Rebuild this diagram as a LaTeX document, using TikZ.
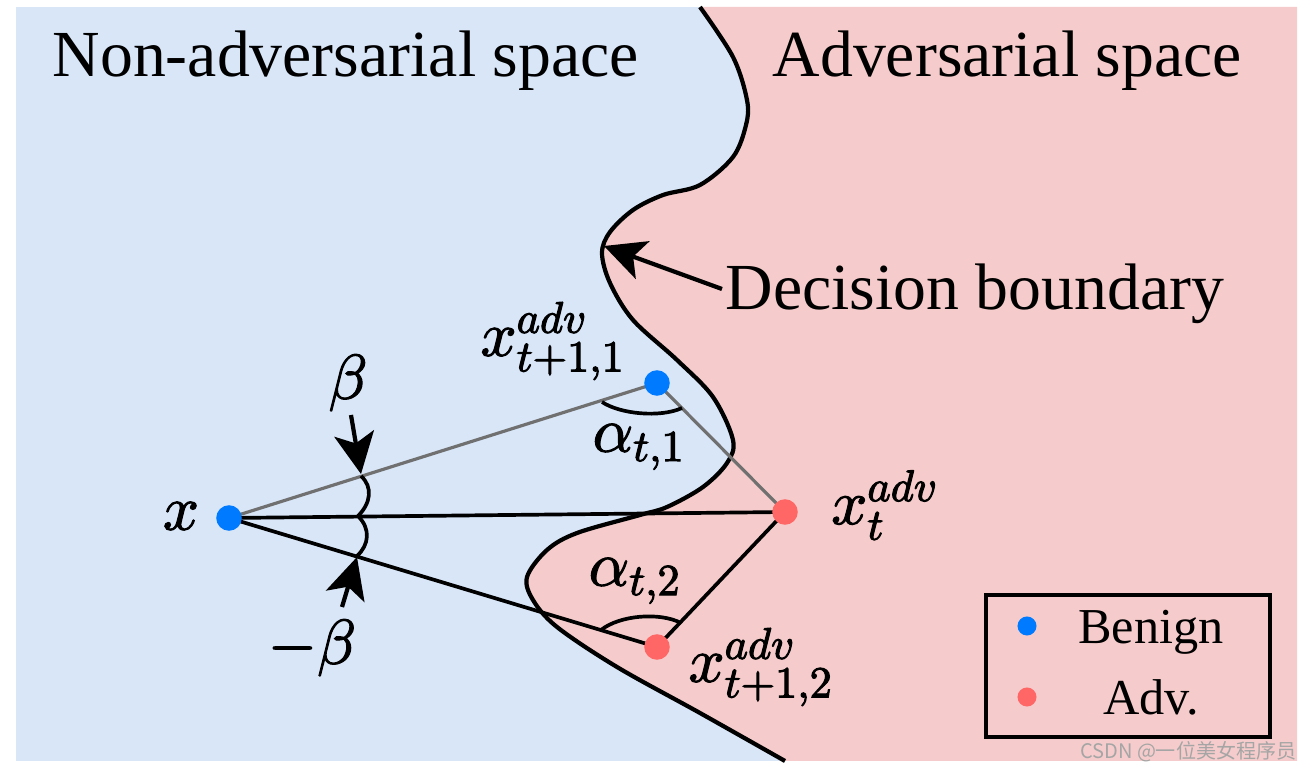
\documentclass[tikz,border=0pt]{standalone}
\usepackage[no-math]{fontspec}
\setmainfont{Liberation Serif}
\newfontfamily\cjkwm{Noto Sans CJK SC}
\usepackage{amsmath}
\DeclareFontShape{OML}{cmm}{m}{it}{<->cmmi10}{\skewchar\font'177}
\DeclareFontShape{OT1}{cmr}{m}{n}{<->cmr10}{}
\DeclareFontShape{OMS}{cmsy}{m}{n}{<->cmsy10}{\skewchar\font'60}
\newcommand\heavymath[1]{\special{pdf:literal direct 2 Tr 0.3 w}#1\special{pdf:literal direct 0 Tr}}
\usetikzlibrary{arrows.meta}
\definecolor{bgblue}{RGB}{216,230,248}
\definecolor{bgpink}{RGB}{245,204,203}
\definecolor{dotblue}{RGB}{0,123,255}
\definecolor{dotred}{RGB}{255,102,102}
\definecolor{linegray}{RGB}{112,112,112}
\definecolor{wmgray}{RGB}{165,165,165}
\begin{document}
\begin{tikzpicture}[x=0.01cm,y=-0.01cm,
  dot/.style={circle,inner sep=0pt,minimum size=0.255cm,draw=none},
  smalldot/.style={circle,inner sep=0pt,minimum size=0.19cm,draw=none},
  blk/.style={line width=1.05pt,black},
  gry/.style={line width=0.9pt,linegray},
  arcline/.style={line width=1.05pt,black},
  bigarrow/.style={line width=1.2pt,-{Stealth[length=0.41cm,width=0.40cm,inset=0.10cm]}},
  bigtext/.style={font=\fontsize{18.7}{22}\selectfont},
  mathlbl/.style={font=\fontsize{18}{22}\selectfont,inner sep=0pt},
  legtext/.style={font=\fontsize{14.3}{17}\selectfont,inner sep=0pt}
]
\useasboundingbox (0,0) rectangle (1314,773);
% background regions
\fill[bgblue] (16,7) rectangle (1297,761);
\fill[bgpink] plot[smooth,tension=0.55] coordinates {(700,7) (733,57) (747,100) (746,125) (733,157) (700,185) (663,195) (633,210) (610,232) (602,253) (610,283) (633,320) (677,360) (713,397) (733,440) (727,463) (703,487) (667,507) (640,515) (577,533) (547,550) (527,577) (533,600) (557,627) (617,667) (700,713) (785,761)} -- (1297,761) -- (1297,7) -- cycle;
% decision boundary
\draw[line width=1.2pt] plot[smooth,tension=0.55] coordinates {(700,7) (733,57) (747,100) (746,125) (733,157) (700,185) (663,195) (633,210) (610,232) (602,253) (610,283) (633,320) (677,360) (713,397) (733,440) (727,463) (703,487) (667,507) (640,515) (577,533) (547,550) (527,577) (533,600) (557,627) (617,667) (700,713) (785,761)};
% region titles
\node[bigtext,anchor=base west,inner sep=0pt] (tnon) at (52,77) {Non-adversarial space};
\node[bigtext,anchor=base west,inner sep=0pt] (tadv) at (772,77) {Adversarial space};
\node[bigtext,anchor=base west,inner sep=0pt] (tdb) at (725,310) {Decision boundary};
\coordinate (dbtail) at (722,289);
\coordinate (dbtip) at (604,246);
\draw[bigarrow] (dbtail) -- (dbtip);
% points
\coordinate (px) at (229,518);
\coordinate (pa) at (657,383);
\coordinate (pt) at (785,512);
\coordinate (pb) at (657,647);
% connectors
\draw[gry] (px) -- (pa);
\draw[gry] (pa) -- (pt);
\draw[blk] (px) -- (pt);
\draw[blk] (px) -- (pb);
\draw[blk] (pb) -- (pt);
% angle arcs
\draw[arcline] (602,402) .. controls (620,414) and (660,418) .. (682,408);
\draw[arcline] (601,630) .. controls (620,615) and (660,612) .. (681,623);
\draw[arcline] (361,476) .. controls (373,487) and (371,503) .. (358,516);
\draw[arcline] (358,516) .. controls (371,529) and (369,545) .. (357,556);
\coordinate (bup) at (351,415);
\coordinate (buptip) at (361,474);
\coordinate (bdn) at (342,607);
\coordinate (bdntip) at (357,557);
\draw[bigarrow] (bup) -- (buptip);
\draw[bigarrow] (bdn) -- (bdntip);
% dots
\node[dot,fill=dotblue] (x) at (px) {};
\node[dot,fill=dotblue] (xa) at (pa) {};
\node[dot,fill=dotred] (xt) at (pt) {};
\node[dot,fill=dotred] (xb) at (pb) {};
% labels
\node[mathlbl] (lx) at (181,516) {\heavymath{$x$}};
\node[mathlbl] (la) at (553,341) {\heavymath{$x_{t+1,1}^{adv}$}};
\node[mathlbl] (lt) at (885,505) {\heavymath{$x_{t}^{adv}$}};
\node[mathlbl] (lb) at (761,667) {\heavymath{$x_{t+1,2}^{adv}$}};
\node[mathlbl] (alpha1) at (639,447) {\heavymath{$\alpha_{t,1}$}};
\node[mathlbl] (alpha2) at (635,581) {\heavymath{$\alpha_{t,2}$}};
\node[mathlbl] (lbeta) at (348,383) {\heavymath{$\beta$}};
\node[mathlbl] (lnbeta) at (312,648) {\heavymath{$-\beta$}};
% legend
\node[draw,line width=1pt,minimum width=2.84cm,minimum height=1.42cm,inner sep=0pt] (legend) at (1128,666) {};
\node[smalldot,fill=dotblue] (legb) at (1027,626) {};
\node[smalldot,fill=dotred] (lega) at (1027,697) {};
\node[legtext,anchor=base] (legbt) at (1151,643) {Benign};
\node[legtext,anchor=base] (legat) at (1151,715) {Adv.};
% watermark
\node[anchor=east,inner sep=0pt,text=wmgray,font=\cjkwm\fontsize{5.7}{7}\selectfont] (wm) at (1297,752) {CSDN @一位美女程序员};
\end{tikzpicture}
\end{document}
